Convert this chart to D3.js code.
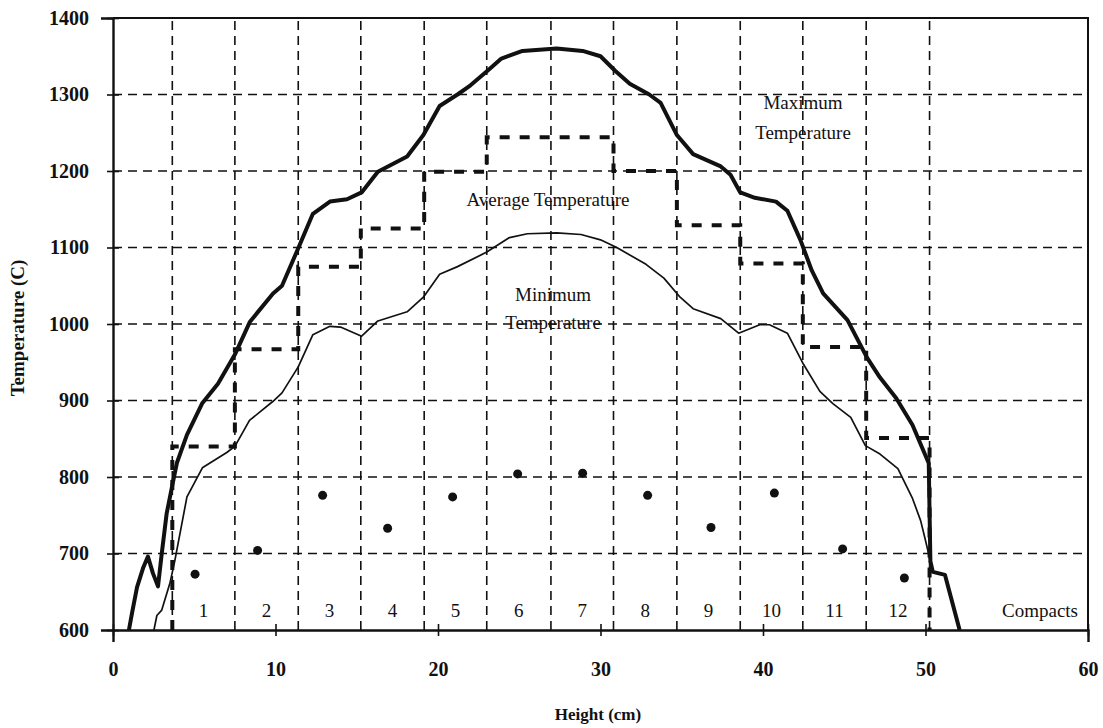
<!DOCTYPE html>
<html>
<head>
<meta charset="utf-8">
<script src="https://cdn.jsdelivr.net/npm/d3@7"></script>
<style>
  html, body { margin: 0; padding: 0; background: #fff; }
  svg text { font-family: "Liberation Serif", "DejaVu Serif", serif; fill: #111; }
</style>
</head>
<body>
<svg id="chart" width="1103" height="728"></svg>
<script>
// Maximum temperature profile along the core height (cm, °C)
const maxHeight = [0.98, 1.17, 1.48, 1.85, 2.15, 2.46, 2.77, 3.0, 3.3, 3.63, 3.94, 4.55, 5.48, 6.46, 7.5, 8.43, 9.85, 10.4, 11.38, 12.3, 13.35, 14.4, 15.3, 16.3, 18.1, 19.1, 20.1, 21.2, 22.0, 23.1, 23.9, 25.2, 27.3, 28.9, 30.0, 30.9, 31.8, 33.0, 33.7, 34.7, 35.7, 37.4, 38.0, 38.6, 39.5, 40.8, 41.5, 42.3, 43.0, 43.7, 45.2, 46.4, 47.2, 48.2, 49.2, 50.2, 50.3, 50.45, 51.2, 52.1];
const maxTemp   = [600, 622, 656, 681, 696, 674, 657, 700, 752, 787, 819, 855, 896, 922, 960, 1003, 1040, 1050, 1098, 1144, 1160, 1163, 1172, 1199, 1219, 1247, 1285, 1300, 1312, 1332, 1347, 1357, 1360, 1357, 1350, 1331, 1314, 1300, 1289, 1247, 1222, 1206, 1195, 1172, 1165, 1160, 1148, 1110, 1070, 1040, 1005, 956, 930, 903, 868, 818, 690, 676, 672, 600];

// Minimum temperature profile
const minHeight = [2.52, 2.7, 3.0, 3.5, 3.8, 4.55, 5.5, 7.0, 7.5, 8.4, 9.85, 10.4, 11.4, 12.3, 13.35, 14.0, 15.3, 16.3, 18.1, 19.1, 20.1, 21.2, 23.0, 24.4, 25.5, 27.3, 28.8, 30.0, 31.0, 32.8, 33.9, 34.9, 35.7, 37.4, 38.5, 39.8, 40.4, 41.5, 42.5, 43.5, 44.3, 45.4, 46.3, 47.2, 48.3, 49.2, 49.7, 50.0, 50.3];
const minTemp   = [600, 619, 626, 661, 690, 774, 812, 832, 840, 874, 899, 910, 944, 986, 997, 996, 984, 1004, 1016, 1035, 1065, 1075, 1094, 1113, 1118, 1119, 1117, 1110, 1100, 1078, 1060, 1035, 1020, 1007, 988, 999, 999, 988, 947, 912, 896, 878, 841, 830, 811, 772, 743, 717, 690];

// Compact boundaries (cm) and per-compact average temperature
const compactEdges = [3.65, 7.5, 11.4, 15.25, 19.15, 23.0, 26.95, 30.8, 34.7, 38.6, 42.45, 46.35, 50.25];
const compactNames = ["1", "2", "3", "4", "5", "6", "7", "8", "9", "10", "11", "12"];
const avgTemp      = [840, 967, 1075, 1125, 1199, 1244, 1244, 1200, 1129, 1079, 970, 851];

// Individual compact temperatures (points)
const pointHeight = [5.05, 8.9, 12.9, 16.9, 20.9, 24.9, 28.9, 32.9, 36.8, 40.7, 44.9, 48.7];
const pointTemp   = [673, 704, 776, 733, 774, 804, 805, 776, 734, 779, 706, 668];

// Axis ticks
const xTicks = [0, 10, 20, 30, 40, 50, 60];
const yTicks = [600, 700, 800, 900, 1000, 1100, 1200, 1300, 1400];

const svg = d3.select("#chart");
const x = d3.scaleLinear().domain([0, 60]).range([113, 1088]);
const y = d3.scaleLinear().domain([600, 1400]).range([630, 18]);
const [x0, x1] = x.range();
const [y0, y1] = y.range();

svg.append("defs").append("clipPath").attr("id", "plot")
  .append("rect").attr("x", x0).attr("y", y1).attr("width", x1 - x0).attr("height", y0 - y1);

// Horizontal dashed grid
svg.append("g").selectAll("line")
  .data(yTicks.filter(d => d > 600 && d < 1400))
  .join("line")
  .attr("x1", x0).attr("x2", x1)
  .attr("y1", d => y(d)).attr("y2", d => y(d))
  .attr("stroke", "#111").attr("stroke-width", 1.6)
  .attr("stroke-dasharray", "9,6");

// Compact boundaries
svg.append("g").selectAll("line")
  .data(compactEdges)
  .join("line")
  .attr("x1", d => x(d)).attr("x2", d => x(d))
  .attr("y1", y0).attr("y2", y1)
  .attr("stroke", "#111").attr("stroke-width", 1.6)
  .attr("stroke-dasharray", "9,6");

// Frame: top and right
svg.append("path")
  .attr("d", `M${x0},${y1}H${x1}V${y0}`)
  .attr("fill", "none").attr("stroke", "#111").attr("stroke-width", 2);

// Axes
const yAxis = d3.axisLeft(y).tickValues(yTicks).tickFormat(d3.format("d")).tickSize(12).tickPadding(18);
const gy = svg.append("g").attr("transform", `translate(${x0},0)`).call(yAxis);
gy.selectAll(".tick line").attr("transform", "translate(6,0)").attr("stroke-width", 1.6);
gy.select(".domain").attr("stroke-width", 2.4);
gy.selectAll(".tick text").attr("font-size", 20).attr("font-weight", "bold").attr("font-family", "Liberation Serif").attr("dx", 6);

const xAxis = d3.axisBottom(x).tickValues(xTicks).tickFormat(d3.format("d")).tickSize(12).tickPadding(28);
const gx = svg.append("g").attr("transform", `translate(0,${y0})`).call(xAxis);
gx.selectAll(".tick line").attr("transform", "translate(0,-6)").attr("stroke-width", 1.6);
gx.select(".domain").attr("stroke-width", 2.4);
gx.selectAll(".tick text").attr("font-size", 20).attr("font-weight", "bold").attr("font-family", "Liberation Serif").attr("dy", "0.3em");
svg.selectAll(".domain").attr("stroke", "#111");
svg.selectAll(".tick line").attr("stroke", "#111");

// Axis titles
svg.append("text")
  .attr("transform", `translate(24,${(y0 + y1) / 2 + 4}) rotate(-90)`)
  .attr("text-anchor", "middle")
  .attr("font-size", 19).attr("font-weight", "bold")
  .text("Temperature (C)");
svg.append("text")
  .attr("x", 598).attr("y", 720)
  .attr("text-anchor", "middle")
  .attr("font-size", 17).attr("font-weight", "bold")
  .text("Height (cm)");

const plot = svg.append("g").attr("clip-path", "url(#plot)");

// Average temperature: step line across compacts
const avgPts = [[compactEdges[0], 600]];
avgTemp.forEach((t, i) => {
  avgPts.push([compactEdges[i], t]);
  avgPts.push([compactEdges[i + 1], t]);
});
avgPts.push([compactEdges[compactEdges.length - 1], 600]);
plot.append("path")
  .datum(avgPts)
  .attr("d", d3.line().x(d => x(d[0])).y(d => y(d[1])))
  .attr("fill", "none").attr("stroke", "#111").attr("stroke-width", 4)
  .attr("stroke-dasharray", "10,10");

// Minimum temperature
plot.append("path")
  .datum(d3.zip(minHeight, minTemp))
  .attr("d", d3.line().x(d => x(d[0])).y(d => y(d[1])))
  .attr("fill", "none").attr("stroke", "#111").attr("stroke-width", 1.7)
  .attr("stroke-linejoin", "round");

// Maximum temperature
plot.append("path")
  .datum(d3.zip(maxHeight, maxTemp))
  .attr("d", d3.line().x(d => x(d[0])).y(d => y(d[1])))
  .attr("fill", "none").attr("stroke", "#111").attr("stroke-width", 4)
  .attr("stroke-linejoin", "round");

// Compact points
plot.append("g").selectAll("circle")
  .data(d3.zip(pointHeight, pointTemp))
  .join("circle")
  .attr("cx", d => x(d[0])).attr("cy", d => y(d[1]))
  .attr("r", 4.5).attr("fill", "#111");

// Compact numbers
svg.append("g").selectAll("text")
  .data(compactNames)
  .join("text")
  .attr("x", (d, i) => x((compactEdges[i] + compactEdges[i + 1]) / 2))
  .attr("y", 617)
  .attr("text-anchor", "middle")
  .attr("font-size", 19)
  .text(d => d);

// Annotations
const notes = [
  ["Compacts", 1040, 617],
  ["Maximum", 803, 109],
  ["Temperature", 803, 139],
  ["Average Temperature", 548, 206],
  ["Minimum", 553, 301],
  ["Temperature", 553, 329]
];
svg.append("g").selectAll("text")
  .data(notes)
  .join("text")
  .attr("x", d => d[1]).attr("y", d => d[2])
  .attr("text-anchor", "middle")
  .attr("font-size", 19)
  .text(d => d[0]);
</script>
</body>
</html>
